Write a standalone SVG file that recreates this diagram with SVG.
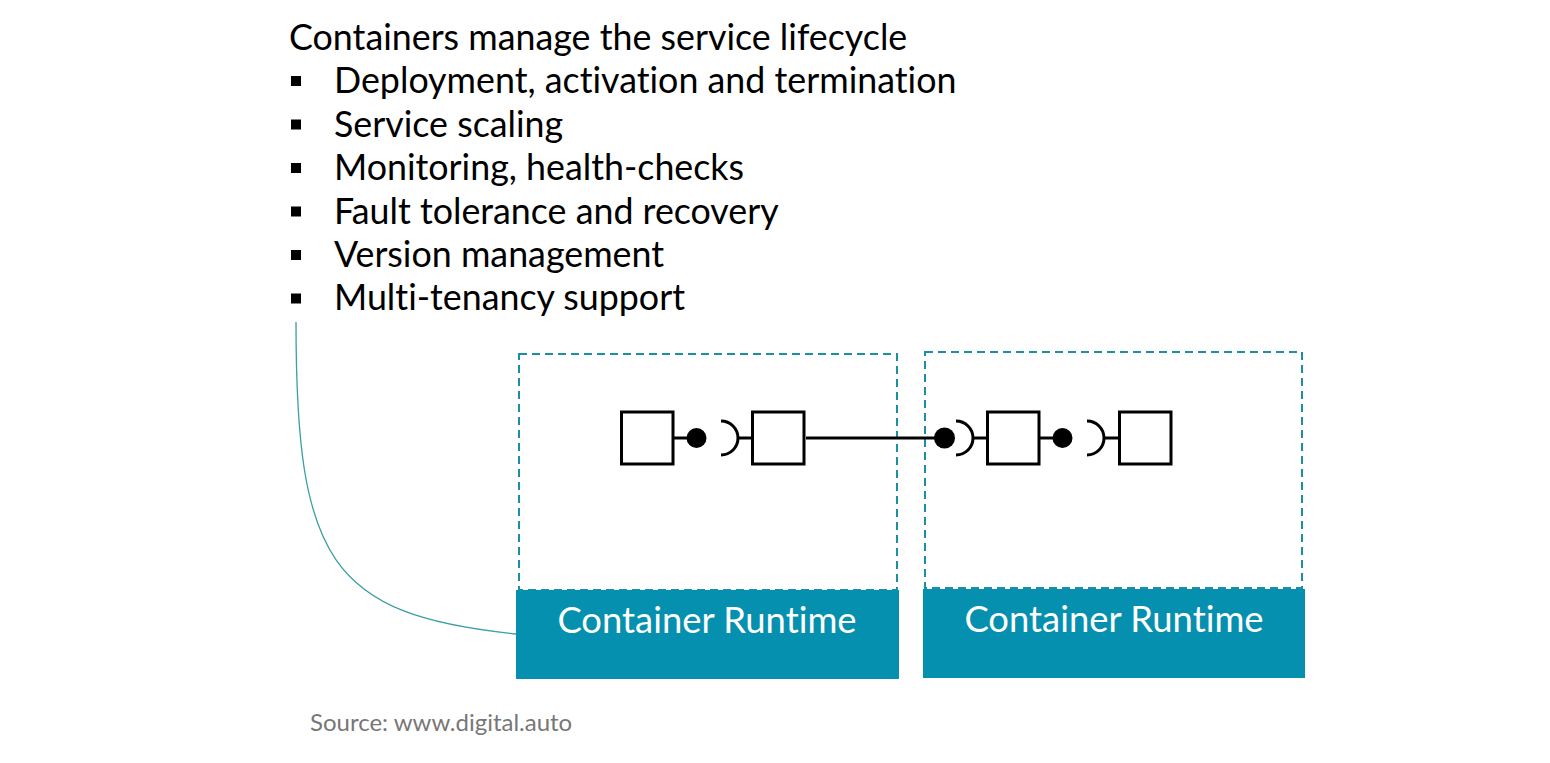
<svg xmlns="http://www.w3.org/2000/svg" width="1550" height="763" viewBox="0 0 1550 763">
<style>
text{font-variant-ligatures:none}
.t{font-family:Lato,"Liberation Sans",sans-serif;font-size:35.8px;fill:#000}
.rt{font-family:Lato,"Liberation Sans",sans-serif;font-size:36.4px;fill:#fff;text-anchor:middle}
.src{font-family:Lato,"Liberation Sans",sans-serif;font-size:24px;fill:#777}
.dash{fill:none;stroke:#1b8fa6;stroke-width:2;stroke-dasharray:8 5}
.rtbox{fill:#0590b0}
.comp{fill:#fff;stroke:#000;stroke-width:3}
.ln{stroke:#000;stroke-width:3;fill:none}
.ball{fill:#000}
.sock{fill:none;stroke:#000;stroke-width:3}
</style>
<rect width="1550" height="763" fill="#fff"/>
<g id="text">
<text class="t" x="289" y="50">Containers manage the service lifecycle</text>
<rect x="291" y="76" width="10" height="10"/>
<text class="t" x="334" y="93.4">Deployment, activation and termination</text>
<rect x="291" y="119.5" width="10" height="10"/>
<text class="t" x="334" y="136.8">Service scaling</text>
<rect x="291" y="163" width="10" height="10"/>
<text class="t" x="334" y="180.2">Monitoring, health-checks</text>
<rect x="291" y="206.5" width="10" height="10"/>
<text class="t" x="334" y="223.6">Fault tolerance and recovery</text>
<rect x="291" y="250" width="10" height="10"/>
<text class="t" x="334" y="267">Version management</text>
<rect x="291" y="293.5" width="10" height="10"/>
<text class="t" x="334" y="310.4">Multi-tenancy support</text>
</g>
<g id="container1">
<rect class="dash" x="519" y="354" width="378" height="236"/>
<rect class="rtbox" x="516" y="590" width="383" height="89"/>
<text class="rt" x="707" y="632.5">Container Runtime</text>
</g>
<g id="container2">
<rect class="dash" x="925" y="352" width="377" height="236"/>
<rect class="rtbox" x="923" y="589" width="382" height="89"/>
<text class="rt" x="1114" y="631.5">Container Runtime</text>
</g>
<g id="connectors">
<path d="M296,322 C296,560 330,615 516,634" fill="none" stroke="#3a9ea5" stroke-width="1.3"/>
<line class="ln" x1="673" y1="438" x2="687" y2="438"/>
<line class="ln" x1="738" y1="438" x2="752" y2="438"/>
<line class="ln" x1="806" y1="438" x2="936" y2="438"/>
<line class="ln" x1="973" y1="438" x2="988" y2="438"/>
<line class="ln" x1="1039" y1="438" x2="1053" y2="438"/>
<line class="ln" x1="1104" y1="438" x2="1118" y2="438"/>
</g>
<g id="comp1"><rect class="comp" x="621.5" y="412" width="51.5" height="52"/></g>
<g id="iface1">
<circle class="ball" cx="696.5" cy="438" r="10"/>
<path class="sock" d="M721,421 A17,17 0 0 1 721,455"/>
</g>
<g id="comp2"><rect class="comp" x="752.5" y="412" width="51.5" height="52"/></g>
<g id="iface2">
<circle class="ball" cx="944.5" cy="438" r="10.5"/>
<path class="sock" d="M956,421 A17,17 0 0 1 956,455"/>
</g>
<g id="comp3"><rect class="comp" x="987.5" y="412" width="51.5" height="52"/></g>
<g id="iface3">
<circle class="ball" cx="1062.5" cy="438" r="10"/>
<path class="sock" d="M1087,421 A17,17 0 0 1 1087,455"/>
</g>
<g id="comp4"><rect class="comp" x="1119.5" y="412" width="51.5" height="52"/></g>
<g id="source">
<text class="src" x="310" y="731">Source: www.digital.auto</text>
</g>
</svg>
